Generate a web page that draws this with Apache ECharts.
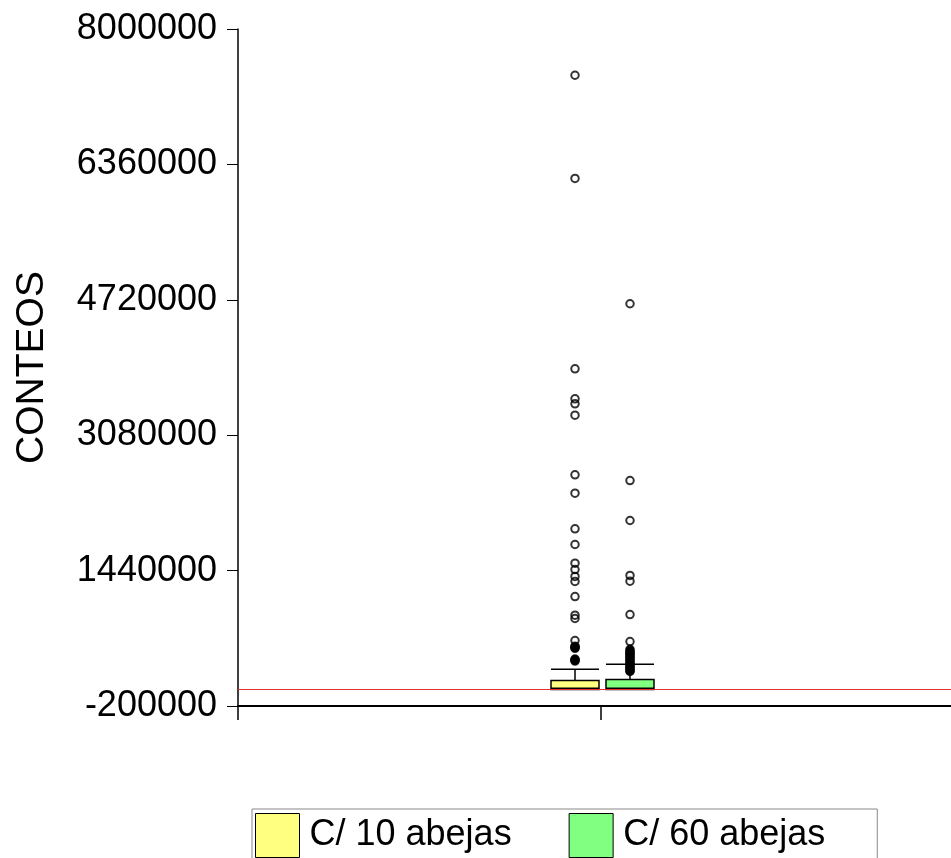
<!DOCTYPE html>
<html>
<head>
<meta charset="utf-8">
<script src="https://cdn.jsdelivr.net/npm/echarts@6/dist/echarts.min.js"></script>
<style>html,body{margin:0;padding:0;background:#fff;}#c{width:951px;height:858px;}</style>
</head>
<body>
<div id="c"></div>
<script>
// ---- data ----
const groups = ['C/ 10 abejas', 'C/ 60 abejas'];
const yTicks = [-200000, 1440000, 3080000, 4720000, 6360000, 8000000];
// [min, Q1, median, Q3, max]
const box10 = [0, 0, 15000, 110000, 245000];
const box60 = [0, 0, 15000, 122000, 305000];
// isolated outliers (drawn as open circles)
const outliers10 = [7440000, 6190000, 3884000, 3521000, 3460000, 3322000, 2600000, 2378000,
  1946000, 1756000, 1530000, 1453000, 1369000, 1308000, 1126000, 900000, 860000, 593000];
// densely overlapping outliers (appear as solid black)
const dense10 = [524000, 516000, 507000, 499000, 368000, 360000, 352000, 344000];
const outliers60 = [4672000, 2531000, 2047000, 1381000, 1312000, 908000, 581000];
const dense60 = [486000, 470000, 455000, 440000, 425000, 409000, 394000, 378000, 363000,
  348000, 332000, 317000, 301000, 286000, 271000, 255000, 240000, 225000, 218000];
const colors = ['#ffff80', '#80ff80'];

// ---- chart ----
const yMin = yTicks[0], yMax = yTicks[yTicks.length - 1], yInt = yTicks[1] - yTicks[0];
const font = 'Liberation Sans, Arial, sans-serif';
const chart = echarts.init(document.getElementById('c'), null, {renderer: 'canvas'});

function hiddenY(gi) {
  return {type: 'value', gridIndex: gi, min: yMin, max: yMax, interval: yInt, show: false, splitLine: {show: false}};
}
function hiddenX(gi, name) {
  return {type: 'category', gridIndex: gi, data: [name], show: false};
}
function outlierSeries(gi, name, vals, fill) {
  return {
    type: 'scatter', xAxisIndex: gi, yAxisIndex: gi, z: 5,
    symbol: 'circle', symbolSize: 7.5,
    itemStyle: {color: fill, borderColor: '#000', borderWidth: 2},
    data: vals.map(v => [name, v]), silent: true
  };
}

const option = {
  animation: false,
  backgroundColor: '#fff',
  grid: [
    {left: 238, right: -13, top: 29, bottom: 152, outerBoundsMode: 'none'},
    {left: 547.5, width: 55, top: 29, bottom: 152, outerBoundsMode: 'none'},
    {left: 602.5, width: 55, top: 29, bottom: 152, outerBoundsMode: 'none'}
  ],
  xAxis: [
    {type: 'value', gridIndex: 0, min: 0, max: 2, interval: 1,
     axisLine: {show: true, onZero: false, lineStyle: {color: '#000', width: 2}},
     axisTick: {show: true, length: 14, lineStyle: {color: '#000', width: 1.5}},
     axisLabel: {show: false}, splitLine: {show: false}},
    hiddenX(1, groups[0]),
    hiddenX(2, groups[1])
  ],
  yAxis: [
    {type: 'value', gridIndex: 0, min: yMin, max: yMax, interval: yInt,
     name: 'CONTEOS', nameLocation: 'middle', nameRotate: 90, nameGap: 186,
     nameTextStyle: {fontFamily: font, fontSize: 39, color: '#000'},
     axisLine: {show: true, onZero: false, lineStyle: {color: '#000', width: 1.5}},
     axisTick: {show: true, length: 11, lineStyle: {color: '#000', width: 1}},
     axisLabel: {fontFamily: font, fontSize: 36, color: '#000', margin: 21,
       formatter: v => String(Math.round(v))},
     splitLine: {show: false}},
    hiddenY(1),
    hiddenY(2)
  ],
  legend: {
    left: 252, top: 809, orient: 'horizontal',
    padding: [4, 52, 4, 3], itemGap: 57,
    itemWidth: 44, itemHeight: 44,
    backgroundColor: '#fff', borderColor: '#888', borderWidth: 1,
    icon: 'rect',
    textStyle: {fontFamily: font, fontSize: 36, color: '#000', padding: [0, 0, 0, 5]},
    data: groups.map((g, i) => ({name: g, icon: 'rect', itemStyle: {color: colors[i], borderColor: '#000', borderWidth: 1}}))
  },
  series: [
    {type: 'line', xAxisIndex: 0, yAxisIndex: 0, data: [], z: 1, silent: true,
     itemStyle: {color: '#e03030'}, lineStyle: {color: '#e03030'},
     markLine: {silent: true, symbol: 'none', label: {show: false},
       lineStyle: {color: '#e03030', width: 1.2, type: 'solid', opacity: 1},
       data: [{yAxis: 0}]}},
    {name: groups[0], type: 'boxplot', xAxisIndex: 1, yAxisIndex: 1, z: 3,
     boxWidth: [48, 48],
     itemStyle: {color: colors[0], borderColor: '#000', borderWidth: 1.5},
     data: [box10]},
    {name: groups[1], type: 'boxplot', xAxisIndex: 2, yAxisIndex: 2, z: 3,
     boxWidth: [48, 48],
     itemStyle: {color: colors[1], borderColor: '#000', borderWidth: 1.5},
     data: [box60]},
    outlierSeries(1, groups[0], outliers10, 'rgba(0,0,0,0)'),
    outlierSeries(1, groups[0], dense10, '#000'),
    outlierSeries(2, groups[1], outliers60, 'rgba(0,0,0,0)'),
    outlierSeries(2, groups[1], dense60, '#000')
  ]
};
chart.setOption(option);
</script>
</body>
</html>
